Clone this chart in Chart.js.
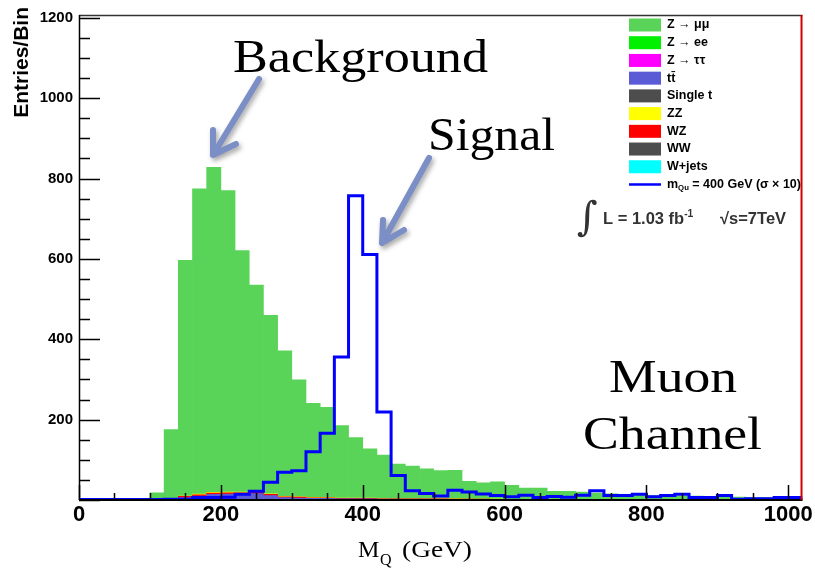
<!DOCTYPE html>
<html lang="en">
<head>
<meta charset="UTF-8">
<title>Muon Channel - M_Q</title>
<script src="https://cdn.jsdelivr.net/npm/chart.js"></script>
<style>
  html, body { margin: 0; padding: 0; background: #fff; }
  #wrap { width: 815px; height: 569px; }
</style>
</head>
<body>
<div id="wrap"><canvas id="massChart" width="815" height="569"></canvas></div>

<script>
// lower edges of the 20 GeV bins
const binLow = [0, 20, 40, 60, 80, 100, 120, 140, 160, 180,
                200, 220, 240, 260, 280, 300, 320, 340, 360, 380,
                400, 420, 440, 460, 480, 500, 520, 540, 560, 580,
                600, 620, 640, 660, 680, 700, 720, 740, 760, 780,
                800, 820, 840, 860, 880, 900, 920, 940, 960, 980,
                1000];
const binWidth = 20;
const xMax = 1020;
const yMax = 1207;

// stacked backgrounds (entries per bin)
const zmumu = [0, 0, 0, 0, 0, 17, 172, 587, 760, 809,
               750, 601, 514, 444, 362, 291, 234, 224, 181, 151,
               123, 108, 86, 81, 74, 69, 71, 44, 40, 43,
               35, 28, 28, 20, 20, 18, 16, 14, 12, 11,
               10, 10, 9, 9, 8, 7.5, 6.5, 5.5, 5.5, 4.5,
               4.5];
const ttbar = [0, 0, 0, 0, 0, 0.5, 2, 6, 10, 14,
               15, 15, 16, 11, 6, 5, 4, 4, 3, 3,
               3, 2, 2, 2, 2, 2, 1.5, 1.5, 1.5, 1,
               1, 1, 1, 1, 1, 1, 1, 1, 0.5, 0.5,
               0.5, 0.5, 0.5, 0.5, 0.5, 0.3, 0.3, 0.3, 0.3, 0.3,
               0.3];
const wz = [0.3, 0.3, 0.3, 0.3, 0.3, 0.5, 1.5, 3, 3, 3,
            3, 3, 4, 3, 2, 2, 1.5, 1.5, 1, 1,
            1, 1, 1, 1, 1, 1, 1, 0.5, 0.5, 0.5,
            0.5, 0.5, 0.5, 0.5, 0.5, 0.3, 0.3, 0.3, 0.3, 0.3,
            0.3, 0.3, 0.3, 0.3, 0.3, 0.2, 0.2, 0.2, 0.2, 0.2,
            0.2];
const zz = [0, 0, 0, 0, 0, 0, 0, 0.5, 1.5, 2,
            2, 1.5, 1, 1.5, 1, 1, 1, 1, 0.5, 0.5,
            0.5, 0.5, 0.5, 0.5, 0.5, 1.5, 0.5, 0.5, 0.5, 0.5,
            0.3, 0.3, 0.3, 0.3, 0.3, 0.2, 0.2, 0.2, 0.2, 0.2,
            0.2, 0.2, 0.2, 0.2, 0.2, 0.1, 0.1, 0.1, 0.1, 0.1,
            0.1];

// signal m_Qu = 400 GeV (sigma x 10)
const signal = [1, 1, 1, 1, 1, 1, 2, 2, 6, 6,
                7, 14, 22, 44, 69, 73, 120, 166, 356, 757,
                611, 219, 61, 23, 16, 10, 24, 20, 15, 11,
                8, 12, 6, 9, 7, 12, 23, 11, 11, 14,
                8, 11, 14, 6, 6, 11, 2, 3, 3, 6,
                6];

const xTickValues = [0, 200, 400, 600, 800, 1000];
const yTickValues = [200, 400, 600, 800, 1000, 1200];

const legendLabels = ['Z \u2192 \u03bc\u03bc', 'Z \u2192 ee', 'Z \u2192 \u03c4\u03c4', 'tt\u0304', 'Single t',
                      'ZZ', 'WZ', 'WW', 'W+jets'];
const legendColors = ['#59d459', '#00f000', '#ff00ff', '#5b5bd6', '#4d4d4d',
                      '#ffff00', '#ff0000', '#4d4d4d', '#00ffff'];
const signalLabel = 'm_{Qu} = 400 GeV (\u03c3 \u00d7 10)';

function bgSet(label, values, color) {
    return {
        type: 'bar',
        label: label,
        data: binLow.map((lo, i) => ({ x: lo + binWidth / 2, y: values[i] })),
        backgroundColor: color,
        borderWidth: 0,
        barPercentage: 1,
        categoryPercentage: 1,
        order: 1
    };
}

// step outline: each bin value starts at its lower edge, closed at xMax
const signalPoints = binLow.map((lo, i) => ({ x: lo, y: signal[i] }));
signalPoints.push({ x: xMax, y: signal[signal.length - 1] });

// draws text with _{sub} and ^{sup} parts, returns end x
function richText(ctx, str, x, y, size, weight, family) {
    const parts = str.split(/(_\{[^}]*\}|\^\{[^}]*\})/).filter(Boolean);
    let cx = x;
    for (const p of parts) {
        let txt = p, s = size, dy = 0;
        if (p.startsWith('_{')) { txt = p.slice(2, -1); s = size * 0.62; dy = size * 0.28; }
        else if (p.startsWith('^{')) { txt = p.slice(2, -1); s = size * 0.62; dy = -size * 0.42; }
        ctx.font = weight + ' ' + s + 'px ' + family;
        ctx.fillText(txt, cx, y + dy);
        cx += ctx.measureText(txt).width;
    }
    return cx;
}

// serif annotation stretched to the width it has in the original slide
function serifLabel(ctx, text, left, baseline, width) {
    ctx.font = '47px "Liberation Serif"';
    const w = ctx.measureText(text).width;
    ctx.save();
    ctx.translate(left, baseline);
    ctx.scale(width / w, 1);
    ctx.fillText(text, 0, 0);
    ctx.restore();
}

function arrow(ctx, tail, tip, w1, w2) {
    ctx.save();
    ctx.strokeStyle = '#7b8fc6';
    ctx.lineWidth = 6;
    ctx.lineCap = 'round';
    ctx.lineJoin = 'round';
    ctx.shadowColor = 'rgba(0,0,0,0.35)';
    ctx.shadowBlur = 5;
    ctx.shadowOffsetX = 2;
    ctx.shadowOffsetY = 3;
    ctx.beginPath();
    ctx.moveTo(tail[0], tail[1]);
    ctx.lineTo(tip[0], tip[1]);
    ctx.moveTo(w1[0], w1[1]);
    ctx.lineTo(tip[0], tip[1]);
    ctx.lineTo(w2[0], w2[1]);
    ctx.stroke();
    ctx.restore();
}

const decor = {
    id: 'decor',
    afterDatasetsDraw(chart) {
        const { ctx, chartArea: a, scales: { x, y } } = chart;
        ctx.save();

        // inward ROOT-style ticks
        ctx.strokeStyle = '#000';
        ctx.lineWidth = 1.5;
        ctx.beginPath();
        for (let v = 0; v <= 1200; v += 50) {
            const py = Math.round(y.getPixelForValue(v)) + 0.5;
            const len = v % 200 === 0 ? 21 : 11;
            ctx.moveTo(a.left, py);
            ctx.lineTo(a.left + len, py);
        }
        for (let v = 0; v <= 1000; v += 50) {
            const px = Math.round(x.getPixelForValue(v)) + 0.5;
            const len = v % 200 === 0 ? 15 : 7;
            ctx.moveTo(px, a.bottom);
            ctx.lineTo(px, a.bottom - len);
        }
        ctx.stroke();

        // frame
        ctx.lineWidth = 1.5;
        ctx.strokeStyle = '#333';
        ctx.beginPath();
        ctx.moveTo(a.left, a.top + 0.5);
        ctx.lineTo(a.right, a.top + 0.5);
        ctx.stroke();
        ctx.strokeStyle = '#000';
        ctx.beginPath();
        ctx.moveTo(a.left + 0.5, a.top);
        ctx.lineTo(a.left + 0.5, a.bottom);
        ctx.stroke();
        ctx.lineWidth = 2;
        ctx.beginPath();
        ctx.moveTo(a.left, a.bottom);
        ctx.lineTo(a.right, a.bottom);
        ctx.stroke();
        ctx.strokeStyle = '#d40000';
        ctx.beginPath();
        ctx.moveTo(a.right - 1, a.top);
        ctx.lineTo(a.right - 1, a.bottom);
        ctx.stroke();

        // axis titles
        ctx.fillStyle = '#000';
        ctx.save();
        ctx.translate(22, 0);
        ctx.rotate(-Math.PI / 2);
        ctx.textAlign = 'right';
        ctx.textBaseline = 'middle';
        ctx.font = 'bold 21px "Liberation Sans"';
        ctx.fillText('Entries/Bin', -7, 0);
        ctx.restore();

        ctx.textBaseline = 'alphabetic';
        ctx.textAlign = 'left';
        ctx.font = '24px "Liberation Serif"';
        ctx.fillText('M', 358, 557);
        ctx.font = '16px "Liberation Serif"';
        ctx.fillText('Q', 380, 565);
        ctx.font = '24px "Liberation Serif"';
        const gw = ctx.measureText('(GeV)').width;
        ctx.save();
        ctx.translate(402, 557);
        ctx.scale(70 / gw, 1);
        ctx.fillText('(GeV)', 0, 0);
        ctx.restore();

        // legend
        const lx = 629, lw = 32, ly0 = 25, dy = 17.72;
        ctx.textBaseline = 'middle';
        legendLabels.forEach((lab, i) => {
            const cy = ly0 + i * dy;
            ctx.fillStyle = legendColors[i];
            ctx.fillRect(lx, cy - 6.5, lw, 13);
            ctx.fillStyle = '#000';
            ctx.font = 'bold 12.5px "Liberation Sans"';
            ctx.fillText(lab, lx + lw + 6, cy);
        });
        const sy = ly0 + legendLabels.length * dy;
        ctx.strokeStyle = '#0000ff';
        ctx.lineWidth = 2.5;
        ctx.beginPath();
        ctx.moveTo(lx, sy);
        ctx.lineTo(lx + lw, sy);
        ctx.stroke();
        ctx.fillStyle = '#000';
        richText(ctx, signalLabel, lx + lw + 6, sy, 12.5, 'bold', '"Liberation Sans"');

        // luminosity label
        ctx.textBaseline = 'alphabetic';
        ctx.fillStyle = '#333';
        ctx.font = '40px "DejaVu Serif"';
        ctx.fillText('\u222b', 577, 230);
        richText(ctx, 'L = 1.03 fb^{-1}', 603, 224, 16.5, 'bold', '"Liberation Sans"');
        ctx.font = 'bold 16.5px "Liberation Sans"';
        ctx.fillText('\u221as=7TeV', 720, 224);

        // slide annotations
        ctx.fillStyle = '#000';
        serifLabel(ctx, 'Background', 233, 72, 255);
        serifLabel(ctx, 'Signal', 428, 150, 127);
        serifLabel(ctx, 'Muon', 609, 392, 128);
        serifLabel(ctx, 'Channel', 583, 449, 179);
        arrow(ctx, [259, 79], [213, 155], [213, 130], [236, 144]);
        arrow(ctx, [429, 158], [382, 243], [383, 220], [404, 230]);

        ctx.restore();
    }
};

const massChart = new Chart(document.getElementById('massChart').getContext('2d'), {
    type: 'bar',
    data: {
        datasets: [
            bgSet('tt\u0304', ttbar, '#5b5bd6'),
            bgSet('WZ', wz, '#ff0000'),
            bgSet('ZZ', zz, '#ffff00'),
            bgSet('Z \u2192 \u03bc\u03bc', zmumu, '#59d459'),
            {
                type: 'line',
                label: 'signal',
                data: signalPoints,
                borderColor: '#0000ff',
                borderWidth: 3,
                pointRadius: 0,
                stepped: true,
                fill: false,
                stack: 'signal',
                order: 0
            }
        ]
    },
    options: {
        responsive: false,
        animation: false,
        layout: { padding: { top: 11, right: 10, left: 0, bottom: 0 } },
        plugins: {
            legend: { display: false },
            tooltip: { enabled: false }
        },
        scales: {
            x: {
                type: 'linear',
                min: 0,
                max: xMax,
                offset: false,
                stacked: true,
                grid: { display: false, drawTicks: false },
                border: { display: false },
                afterBuildTicks: s => { s.ticks = xTickValues.map(v => ({ value: v })); },
                afterFit: s => { s.height = 69; },
                ticks: {
                    autoSkip: false,
                    maxRotation: 0,
                    padding: 2,
                    color: '#000',
                    callback: v => String(v),
                    font: { family: 'Liberation Sans', size: 22, weight: 'bold' }
                }
            },
            y: {
                type: 'linear',
                min: 0,
                max: yMax,
                stacked: true,
                grid: { display: false, drawTicks: false },
                border: { display: false },
                afterBuildTicks: s => { s.ticks = yTickValues.map(v => ({ value: v })); },
                afterFit: s => { s.width = 79; },
                ticks: {
                    padding: 6,
                    color: '#000',
                    callback: v => String(v),
                    font: { family: 'Liberation Sans', size: 15, weight: 'bold' }
                }
            }
        }
    },
    plugins: [decor]
});
</script>
</body>
</html>
